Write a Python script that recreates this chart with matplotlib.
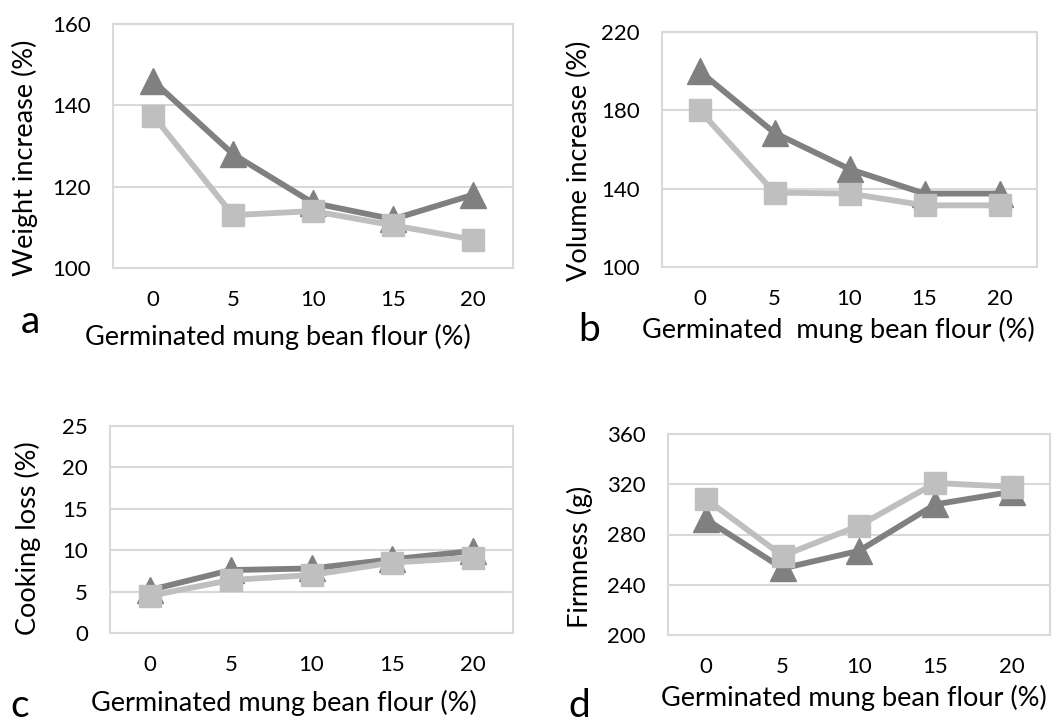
import matplotlib.pyplot as plt

plt.rcParams['font.family'] = ['Lato', 'DejaVu Sans']

flour = ['0', '5', '10', '15', '20']

weight_tri = [146, 128, 116, 112, 118]
weight_sq = [137.5, 113, 114, 110.5, 107]

volume_tri = [200, 168.5, 150, 137.5, 137.5]
volume_sq = [180, 138, 137.5, 131.5, 131.5]

loss_tri = [5.2, 7.6, 7.8, 8.9, 9.9]
loss_sq = [4.5, 6.4, 7.0, 8.5, 9.1]

firm_tri = [292, 253, 267, 304, 314]
firm_sq = [308, 263, 287, 321, 318]

W, H = 1054, 726
DARK = '#808080'
LIGHT = '#bfbfbf'
GRID = '#d9d9d9'

panels = [
    # values tri, values sq, ylim, yticks, box (l, r, t, b) px, ylabel, xlabel, xlabel pos, ylabel pos, letter
    (weight_tri, weight_sq, (100, 160), [100, 120, 140, 160], (113, 513, 24, 268),
     'Weight increase (%)', 'Germinated mung bean flour (%)', (278, 337), (25, 158), ('a', 30, 322)),
    (volume_tri, volume_sq, (100, 220), [100, 140, 180, 220], (662, 1037, 32, 267),
     'Volume increase (%)', 'Germinated  mung bean flour (%)', (838, 330), (579, 161), ('b', 589, 330)),
    (loss_tri, loss_sq, (0, 25), [0, 5, 10, 15, 20, 25], (110, 513, 426, 633),
     'Cooking loss (%)', 'Germinated mung bean flour (%)', (284, 703), (28, 538), ('c', 20, 706)),
    (firm_tri, firm_sq, (200, 360), [200, 240, 280, 320, 360], (668, 1050, 434, 635),
     'Firmness (g)', 'Germinated mung bean flour (%)', (854, 698), (580, 557), ('d', 579, 706)),
]

fig = plt.figure(figsize=(W / 100, H / 100), dpi=100)

for tri, sq, ylim, yticks, box, ylab, xlab, xlpos, ylpos, letter in panels:
    l, r, t, b = box
    ax = fig.add_axes([l / W, 1 - b / H, (r - l) / W, (b - t) / H])
    x = range(len(flour))
    ax.plot(x, tri, color=DARK, lw=4.2, marker='^', ms=18.5, zorder=3)
    ax.plot(x, sq, color=LIGHT, lw=4.2, marker='s', ms=15.5, zorder=4)
    ax.set_xlim(-0.5, len(flour) - 0.5)
    ax.set_ylim(*ylim)
    ax.set_yticks(yticks)
    ax.set_xticks(list(x))
    ax.set_xticklabels(flour)
    ax.grid(axis='y', color=GRID, lw=1.5, zorder=0)
    ax.set_axisbelow(True)
    for s in ax.spines.values():
        s.set_color(GRID)
        s.set_linewidth(1.5)
    ax.tick_params(length=0, labelsize=16, colors='black')
    ax.tick_params(axis='y', pad=16)
    ax.tick_params(axis='x', pad=16)
    fig.text(xlpos[0] / W, 1 - xlpos[1] / H, xlab, fontsize=19.5, ha='center', va='center')
    fig.text(ylpos[0] / W, 1 - ylpos[1] / H, ylab, fontsize=19.5, ha='center', va='center',
             rotation=90)
    fig.text(letter[1] / W, 1 - letter[2] / H, letter[0], fontsize=28, ha='center', va='center')

fig.savefig('out.png', dpi=100, facecolor='white')
